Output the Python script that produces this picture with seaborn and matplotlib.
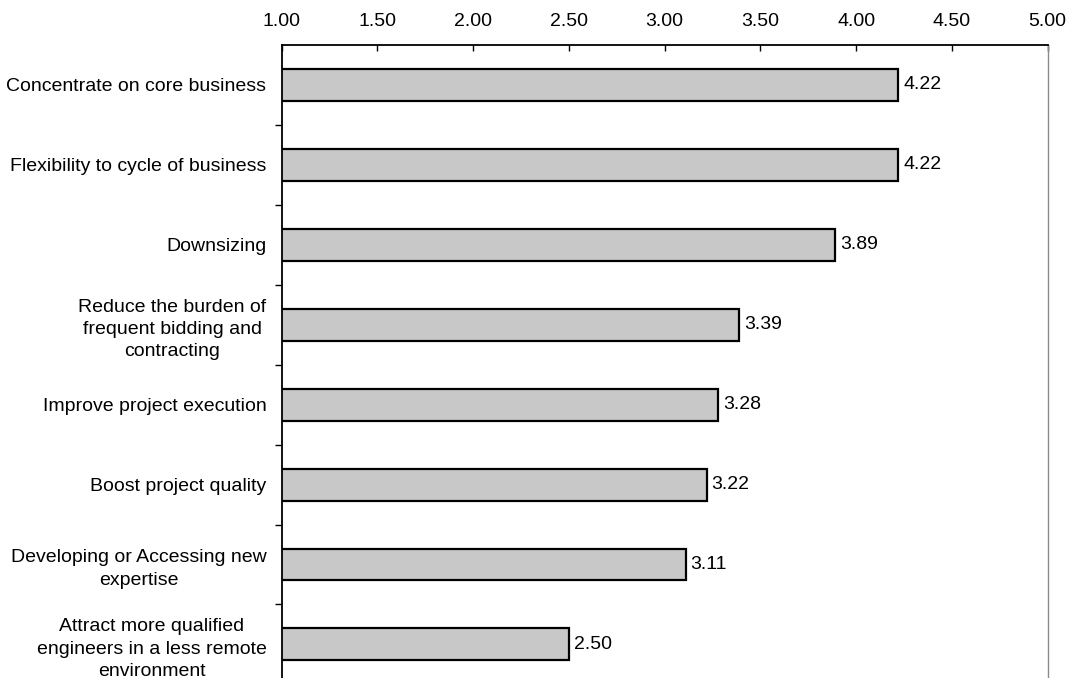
import matplotlib
matplotlib.use("Agg")
import matplotlib.pyplot as plt
import seaborn as sns
import pandas as pd
import numpy as np
from matplotlib.ticker import FixedLocator

categories = [
    "Concentrate on core business",
    "Flexibility to cycle of business",
    "Downsizing",
    "Reduce the burden of\nfrequent bidding and\ncontracting",
    "Improve project execution",
    "Boost project quality",
    "Developing or Accessing new\nexpertise",
    "Attract more qualified\nengineers in a less remote\nenvironment",
]
scores = [4.22, 4.22, 3.89, 3.39, 3.28, 3.22, 3.11, 2.50]
x_ticks = [1.00, 1.50, 2.00, 2.50, 3.00, 3.50, 4.00, 4.50, 5.00]

df = pd.DataFrame({"reason": categories, "score": scores})

sns.set_theme(style="white")
plt.rcParams["font.family"] = ["Liberation Sans", "DejaVu Sans"]
plt.rcParams["text.color"] = "black"
plt.rcParams["xtick.labelcolor"] = "black"
plt.rcParams["ytick.labelcolor"] = "black"

fig = plt.figure(figsize=(10.73, 6.78), dpi=100)
ax = fig.add_axes([0.2625, -0.0094, 0.7139, 0.943])

sns.barplot(data=df, x="score", y="reason", orient="h", width=0.4,
            color="#c8c8c8", edgecolor="black", linewidth=1.6,
            saturation=1, ax=ax)

ax.set_xlim(1, 5)
ax.set_ylim(len(categories) - 0.5, -0.5)
ax.set_xlabel("")
ax.set_ylabel("")

# value axis on top
ax.xaxis.tick_top()
ax.set_xticks(x_ticks)
ax.set_xticklabels([f"{v:.2f}" for v in x_ticks], fontsize=14)
ax.tick_params(axis="x", direction="in", length=4, width=1, pad=11,
               color="black", labelcolor="black", top=True, bottom=False)

# category labels, separator ticks between rows
ax.tick_params(axis="y", which="major", length=0, pad=11, labelsize=14,
               labelcolor="black")
for lbl in ax.get_yticklabels():
    lbl.set_multialignment("center")
    lbl.set_linespacing(1.42)
ax.yaxis.set_minor_locator(FixedLocator(np.arange(0.5, len(categories) - 0.5, 1)))
ax.tick_params(axis="y", which="minor", left=True, direction="out",
               length=5, width=1, color="black")

for side in ["top", "left"]:
    ax.spines[side].set_visible(True)
    ax.spines[side].set_color("black")
    ax.spines[side].set_linewidth(1.3)
ax.spines["bottom"].set_visible(False)
ax.spines["right"].set_visible(True)
ax.spines["right"].set_color("#8a8a8a")
ax.spines["right"].set_linewidth(1.0)
ax.spines["right"].set_linestyle((0, (2, 1)))

for i, v in enumerate(scores):
    ax.text(v + 0.025, i, f"{v:.2f}", va="center", ha="left",
            fontsize=14, color="black")

fig.savefig("out.png", dpi=100)
